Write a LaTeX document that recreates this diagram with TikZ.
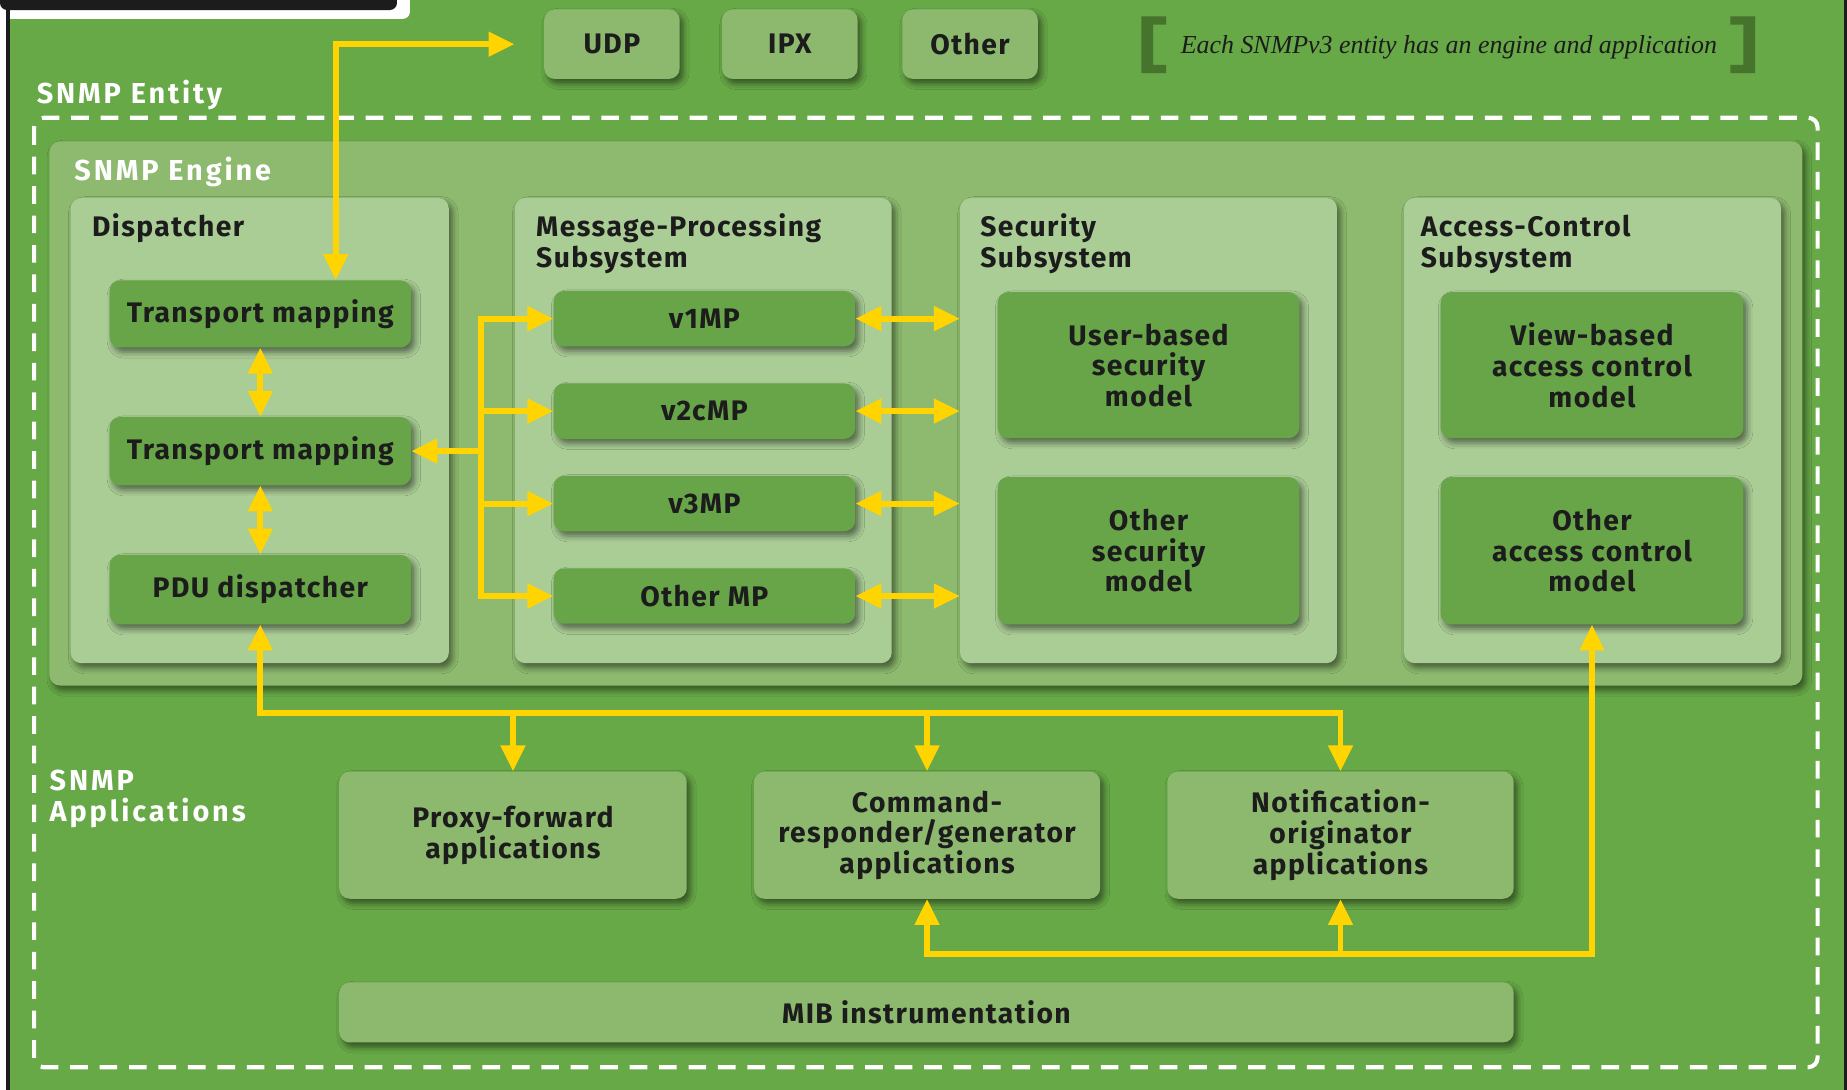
\documentclass[tikz,border=0pt]{standalone}
\usepackage{fontspec}
\setmainfont{Fira Sans}[LetterSpace=5]
\newfontfamily\notefont{Liberation Serif}
\usetikzlibrary{arrows.meta,shadows.blur}
\definecolor{bggreen}{RGB}{103,168,71}
\definecolor{enginegreen}{RGB}{141,186,110}
\definecolor{panelgreen}{RGB}{170,205,150}
\definecolor{boxgreen}{RGB}{104,165,72}
\definecolor{appgreen}{RGB}{140,185,110}
\definecolor{linkyellow}{RGB}{255,212,0}
\definecolor{bracketgreen}{RGB}{70,116,44}
\definecolor{inkblack}{RGB}{28,28,28}
\begin{document}
\begin{tikzpicture}[x=1pt,y=-1pt,
  softshadow/.style={blur shadow={shadow xshift=3pt,shadow yshift=-4pt,shadow blur radius=5pt,shadow opacity=50}},
  panel/.style={fill=panelgreen,rounded corners=9pt,inner sep=0pt,softshadow},
  box/.style={fill=boxgreen,rounded corners=9pt,inner sep=0pt,align=center,text=inkblack,
    font=\bfseries\fontsize{24}{26}\selectfont,softshadow},
  appbox/.style={box,fill=appgreen},
  title/.style={anchor=base west,inner sep=0pt,text=inkblack,font=\bfseries\fontsize{24}{26}\selectfont},
  whitelabel/.style={title,text=white,font=\bfseries\fontsize{24.5}{26}\selectfont\addfontfeature{LetterSpace=10}},
  ytip/.tip={Triangle[length=22pt,width=20pt]},
  link/.style={draw=linkyellow,line width=5pt},
  oneway/.style={link,-ytip},
  twoway/.style={link,ytip-ytip},
]
\useasboundingbox (0,0) rectangle (1568,925);
\begin{scope}
\clip (0,0) rectangle (1568,925);
% page frame
\fill[bggreen] (0,0) rectangle (1568,925);
\fill[white] (0,0) rectangle (5,925);
\fill[white,rounded corners=6pt] (0,-20) rectangle (348,16);
\fill[inkblack,rounded corners=6pt] (0,-20) rectangle (337,8.5);
\fill[inkblack] (5,0) rectangle (8.5,925);
\fill[inkblack] (1565.5,0) rectangle (1568,925);
\end{scope}

% transports
\node[appbox,minimum width=115pt,minimum height=59pt] (udp) at (519.5,37.5) {UDP};
\node[appbox,minimum width=115pt,minimum height=59pt] (ipx) at (670.5,37.5) {IPX};
\node[appbox,minimum width=115pt,minimum height=59pt] (other) at (823.5,37.5) {Other};

% note with brackets
\fill[bracketgreen] (969,14) -- (990,14) -- (990,21) -- (979,21) -- (979,55) -- (990,55) -- (990,62) -- (969,62) -- cycle;
\fill[bracketgreen] (1490,14) -- (1469,14) -- (1469,21) -- (1480,21) -- (1480,55) -- (1469,55) -- (1469,62) -- (1490,62) -- cycle;
\node[inner sep=0pt,text=inkblack,font=\notefont\itshape\fontsize{22}{24}\selectfont] (note) at (1230,40) {Each SNMPv3 entity has an engine and application};

% entity frame
\node[whitelabel] (entitylbl) at (31,88) {SNMP Entity};
\draw[white,line width=3.5pt,dash pattern=on 15pt off 10pt,rounded corners=8pt] (29,100) rectangle (1543,906);

% engine
\node[panel,fill=enginegreen,minimum width=1488pt,minimum height=462pt] (engine) at (786,351) {};
\node[whitelabel] (enginelbl) at (63,153) {SNMP Engine};

\node[panel,minimum width=321pt,minimum height=395pt] (disp) at (220.5,365.5) {};
\node[panel,minimum width=320pt,minimum height=395pt] (mpp) at (597,365.5) {};
\node[panel,minimum width=320pt,minimum height=395pt] (secp) at (975,365.5) {};
\node[panel,minimum width=320pt,minimum height=395pt] (acp) at (1352,365.5) {};

\node[title] (displbl) at (78,201) {Dispatcher};
\node[title] (mplbl) at (455,201) {\parbox[t]{300pt}{Message-Processing\\Subsystem}};
\node[title] (seclbl) at (832,201) {\parbox[t]{300pt}{Security\\Subsystem}};
\node[title] (aclbl) at (1206,201) {\parbox[t]{300pt}{Access-Control\\Subsystem}};

% dispatcher
\node[box,minimum width=256pt,minimum height=57pt] (tm1) at (221,266.5) {Transport mapping};
\node[box,minimum width=256pt,minimum height=58pt] (tm2) at (221,383) {Transport mapping};
\node[box,minimum width=256pt,minimum height=59pt] (pdu) at (221,500.5) {PDU dispatcher};

% message processing models
\node[box,minimum width=256pt,minimum height=47pt] (mp1) at (598,270.5) {v1MP};
\node[box,minimum width=256pt,minimum height=47pt] (mp2) at (598,349) {v2cMP};
\node[box,minimum width=256pt,minimum height=47pt] (mp3) at (598,427.5) {v3MP};
\node[box,minimum width=256pt,minimum height=47pt] (mp4) at (598,506) {Other MP};

% security models
\node[box,minimum width=256pt,minimum height=124pt] (usm) at (975,310) {User-based\\security\\model};
\node[box,minimum width=256pt,minimum height=125pt] (osm) at (975,467.5) {Other\\security\\model};

% access control models
\node[box,minimum width=257pt,minimum height=124pt] (vacm) at (1351.5,310) {View-based\\access control\\model};
\node[box,minimum width=257pt,minimum height=125pt] (oac) at (1351.5,467.5) {Other\\access control\\model};

% applications
\node[whitelabel] (applbl) at (42,671) {\parbox[t]{200pt}{SNMP\\Applications}};
\node[appbox,minimum width=295pt,minimum height=108pt] (proxy) at (435.5,709) {Proxy-forward\\applications};
\node[appbox,minimum width=294pt,minimum height=108pt] (cmd) at (787,709) {Command-\\responder/generator\\applications};
\node[appbox,minimum width=294pt,minimum height=108pt] (notif) at (1138,709) {Notification-\\originator\\applications};
\node[appbox,minimum width=997pt,minimum height=51pt] (mib) at (786.5,859.5) {MIB instrumentation};

% connectors
\coordinate (pdubus) at (0,605);
\coordinate (acbus) at (0,810);
\draw[twoway] (285,0 |- tm1.north) -- (285,0 |- udp.west) -- ([xshift=-25pt]udp.west);
\draw[twoway] (tm1.south) -- (tm2.north);
\draw[twoway] (tm2.south) -- (pdu.north);
\draw[link,line cap=rect] (408,0 |- mp1.west) -- (408,0 |- mp4.west);
\draw[oneway] (408,0 |- tm2.east) -- (tm2.east);
\foreach \m in {mp1,mp2,mp3,mp4}{
  \draw[oneway] (408,0 |- \m.west) -- (\m.west);
  \draw[twoway] (\m.east) -- (\m.east -| secp.west);
}
\draw[twoway] (pdu.south) -- (pdu.south |- pdubus) -| (notif.north);
\draw[oneway] (proxy.north |- pdubus) -- (proxy.north);
\draw[oneway] (cmd.north |- pdubus) -- (cmd.north);
\draw[twoway] (oac.south) -- (oac.south |- acbus) -| (cmd.south);
\draw[oneway] (notif.south |- acbus) -- (notif.south);
\end{tikzpicture}
\end{document}
